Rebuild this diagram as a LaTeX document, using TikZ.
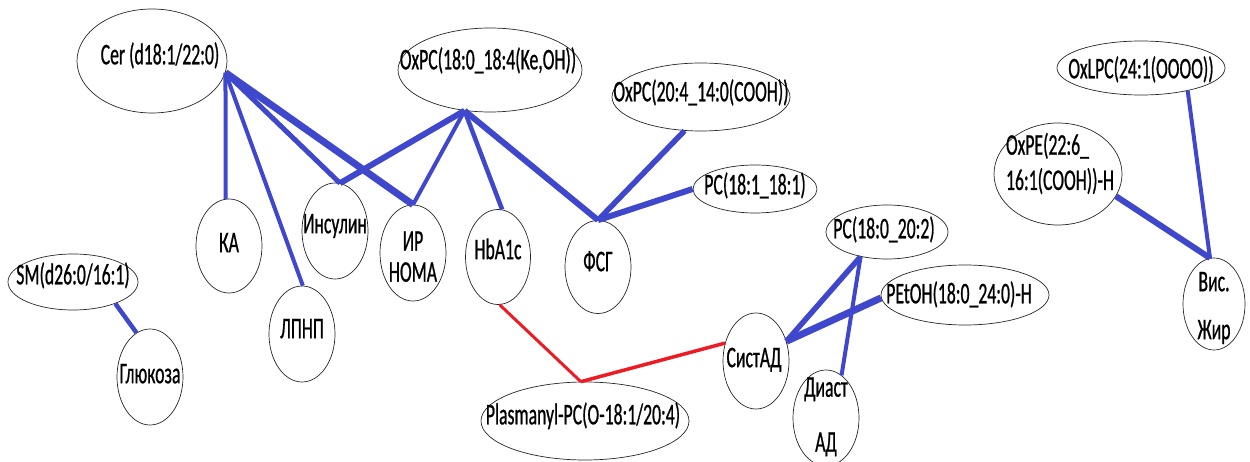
\documentclass[tikz,border=0pt]{standalone}
\usepackage{fontspec}
\setmainfont{Carlito}[FakeStretch=0.59,FakeBold=0.7]
\usetikzlibrary{shapes.geometric}
\definecolor{eblue}{HTML}{3F48CC}
\definecolor{ered}{HTML}{ED1C24}
\newcommand\tx[4][c]{\makebox[0pt][c]{\hspace*{#2}\hspace*{#2}\smash{\raisebox{\dimexpr #3-0.5\height+0.5\depth\relax}{\begin{tabular}{@{}#1@{}}#4\end{tabular}}}}}
\begin{document}
\begin{tikzpicture}[x=1pt,y=1pt,
  nd/.style={draw=black!85, line width=0.7pt, ellipse, inner sep=0pt,
    font=\fontsize{30}{31}\selectfont},
  bl/.style={eblue, line width=#1},
  bl/.default=4pt,
  rd/.style={ered, line width=#1},
  rd/.default=3pt]
\useasboundingbox (0,0) rectangle (1250,-462);

% nodes
\node[nd, minimum width=150, minimum height=104] (cer)    at (152,-61)  {\tx{8pt}{3pt}{Cer (d18:1/22:0)}};
\node[nd, minimum width=184, minimum height=84]  (oxpc)   at (490,-70)  {\tx{-2pt}{7pt}{OxPC(18:0\_18:4(Ke,OH))}};
\node[nd, minimum width=178, minimum height=68]  (oxpc2)  at (701,-97)  {\tx{0pt}{2pt}{OxPC(20:4\_14:0(COOH))}};
\node[nd, minimum width=124, minimum height=48]  (pc181)  at (755,-189) {\tx{0pt}{1pt}{PC(18:1\_18:1)}};
\node[nd, minimum width=168, minimum height=54]  (oxlpc)  at (1141,-68) {\tx{0pt}{-4pt}{OxLPC(24:1(OOOO))}};
\node[nd, minimum width=128, minimum height=102] (oxpe)   at (1058,-174){\tx[l]{2pt}{8pt}{OxPE(22:6\_\\[4pt]16:1(COOH))-H}};
\node[nd, minimum width=62,  minimum height=92]  (vis)    at (1214,-304){\tx{0pt}{-5pt}{Вис.\\[17pt]Жир}};
\node[nd, minimum width=130, minimum height=56]  (sm)     at (73,-282)  {\tx{0pt}{4pt}{SM(d26:0/16:1)}};
\node[nd, minimum width=66,  minimum height=96]  (glu)    at (150,-377) {\tx{0pt}{0pt}{Глюкоза}};
\node[nd, minimum width=66,  minimum height=94]  (ka)     at (229,-246) {\tx{0pt}{0pt}{КА}};
\node[nd, minimum width=66,  minimum height=96]  (lpnp)   at (302,-334) {\tx{0pt}{2pt}{ЛПНП}};
\node[nd, minimum width=66,  minimum height=96]  (ins)    at (335,-231) {\tx{0pt}{4pt}{Инсулин}};
\node[nd, minimum width=66,  minimum height=96]  (ir)     at (413,-253) {\tx{0pt}{-7pt}{ИР\\НОМА}};
\node[nd, minimum width=65,  minimum height=95]  (hba)    at (498,-257) {\tx{0pt}{4pt}{HbA1c}};
\node[nd, minimum width=66,  minimum height=93]  (fsg)    at (598,-267) {\tx{0pt}{2pt}{ФСГ}};
\node[nd, minimum width=122, minimum height=54]  (pc2002) at (887,-232) {\tx{-3pt}{0pt}{PC(18:0\_20:2)}};
\node[nd, minimum width=168, minimum height=60]  (petoh)  at (965,-295) {\tx{-6pt}{-2pt}{PEtOH(18:0\_24:0)-H}};
\node[nd, minimum width=66,  minimum height=96]  (sist)   at (756,-361) {\tx{-2pt}{0pt}{СистАД}};
\node[nd, minimum width=66,  minimum height=96]  (diast)  at (826,-418) {\tx{0pt}{0pt}{Диаст\\[24pt]АД}};
\node[nd, minimum width=208, minimum height=78]  (plasm)  at (585,-421) {\tx{-2pt}{3pt}{Plasmanyl-PC(O-18:1/20:4)}};

% connectors
\draw[bl=4pt]   (cer.-9) -- (ka.94);
\draw[bl=4pt]   (cer.-9) -- (lpnp.89);
\draw[bl=5pt]   (cer.-9) -- (ins.84);
\draw[bl=7pt]   (cer.-9) -- (ir.90);
\draw[bl=6pt]   (oxpc.-122) -- (ins.84);
\draw[bl=4pt]   (oxpc.-122) -- (ir.90);
\draw[bl=4.5pt] (oxpc.-122) -- (hba.85);
\draw[bl=6pt]   (oxpc.-122) -- (fsg.90);
\draw[bl=5.5pt] (oxpc2.-116) -- (fsg.90);
\draw[bl=6pt]   (pc181.180) -- (fsg.90);
\draw[bl=4pt]   (oxlpc.-26) -- (vis.95);
\draw[bl=6pt]   (oxpe.-21) -- (vis.95);
\draw[bl=4.5pt] (sm.-27) -- (glu.107);
\draw[rd=3pt]   (hba.-88) -- (plasm.96);
\draw[rd=3.5pt] (plasm.96) -- (sist.150);
\draw[bl=5.5pt] (pc2002.-137) -- (sist.33);
\draw[bl=7pt]   (petoh.182) -- (sist.33);
\draw[bl=4pt]   (pc2002.-137) -- (diast.70);
\end{tikzpicture}
\end{document}
